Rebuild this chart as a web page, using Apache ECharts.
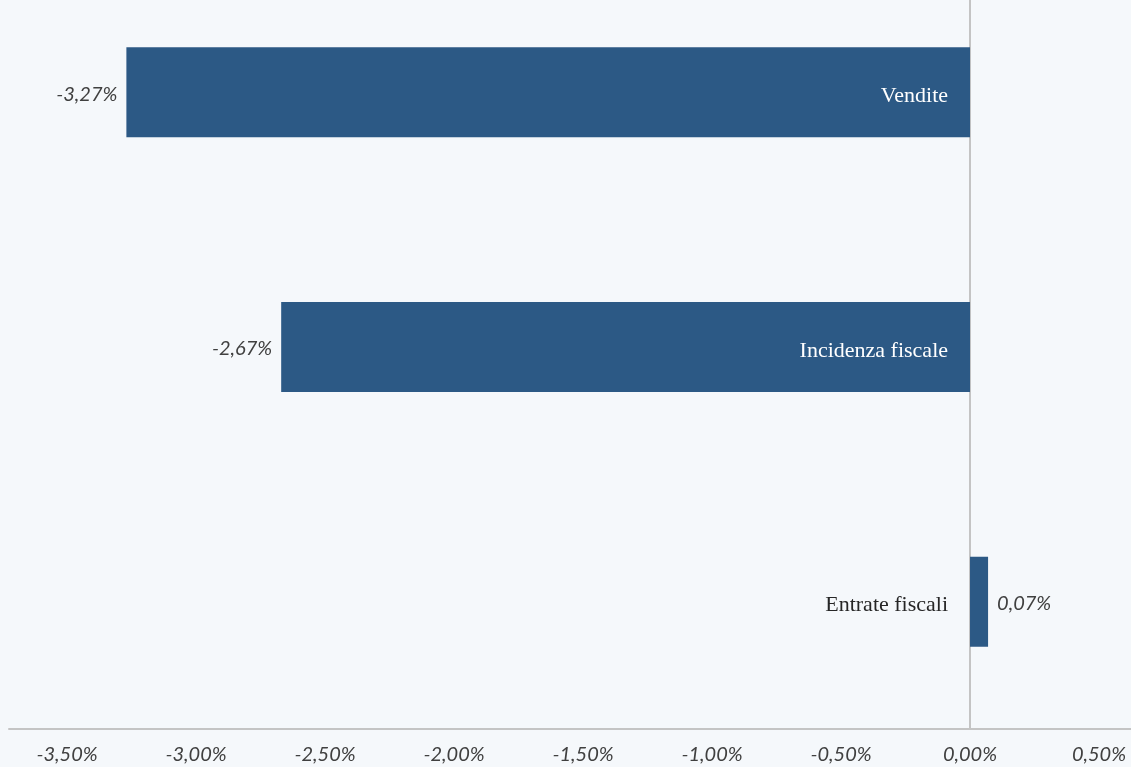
<!DOCTYPE html>
<html>
<head>
<meta charset="utf-8">
<script src="https://cdn.jsdelivr.net/npm/echarts@6/dist/echarts.min.js"></script>
<style>
  html, body { margin: 0; padding: 0; background: #F5F8FB; }
  #chart-container { width: 1131px; height: 767px; }
</style>
</head>
<body>
<div id="chart-container"></div>
<script>
var categories = ['Entrate fiscali', 'Incidenza fiscale', 'Vendite'];
var values = [0.07, -2.67, -3.27];
var tickValues = [-3.5, -3.0, -2.5, -2.0, -1.5, -1.0, -0.5, 0, 0.5];

var dom = document.getElementById('chart-container');
var myChart = echarts.init(dom, null, { renderer: 'canvas' });

function pct(v) {
  return v.toFixed(2).replace('.', ',') + '%';
}

var numFont = 'Lato';
var textColor = '#404040';

var option = {
  backgroundColor: '#F5F8FB',
  animation: false,
  grid: { left: 9, right: 0, top: -35, bottom: 38, containLabel: false, outerBoundsMode: 'none' },
  xAxis: {
    type: 'value',
    min: -3.725,
    max: 0.624,
    splitLine: { show: false },
    axisTick: { show: false },
    axisLine: { show: true, lineStyle: { color: '#C4C4C4', width: 2 } },
    axisLabel: {
      customValues: tickValues,
      margin: 16,
      fontFamily: numFont,
      fontStyle: 'italic',
      fontSize: 20,
      color: textColor,
      formatter: function (v) { return pct(v); }
    }
  },
  yAxis: {
    type: 'category',
    data: categories,
    axisTick: { show: false },
    axisLine: { show: true, onZero: true, lineStyle: { color: '#C4C4C4', width: 2 } },
    axisLabel: { show: false }
  },
  series: [{
    type: 'bar',
    barWidth: 90,
    itemStyle: { color: '#2C5985' },
    data: values.map(function (v) {
      return {
        value: v,
        label: { position: v < 0 ? 'left' : 'right' }
      };
    }),
    label: {
      show: true,
      distance: 9,
      offset: [0, 2],
      fontFamily: numFont,
      fontStyle: 'italic',
      fontSize: 20,
      color: textColor,
      formatter: function (p) { return pct(p.value); }
    }
  }, {
    // category names drawn next to the zero line
    type: 'bar',
    barWidth: 90,
    barGap: '-100%',
    z: 3,
    silent: true,
    itemStyle: { color: 'rgba(0,0,0,0)' },
    data: values.map(function (v) {
      return {
        value: v,
        label: v < 0
          ? { position: 'insideRight', distance: 22, color: '#FFFFFF' }
          : { position: 'left', distance: 22, color: '#262626' }
      };
    }),
    label: {
      show: true,
      offset: [0, 4],
      fontFamily: 'Liberation Serif',
      fontSize: 22,
      formatter: function (p) { return p.name; }
    }
  }]
};

myChart.setOption(option);
window.addEventListener('resize', myChart.resize);
</script>
</body>
</html>
